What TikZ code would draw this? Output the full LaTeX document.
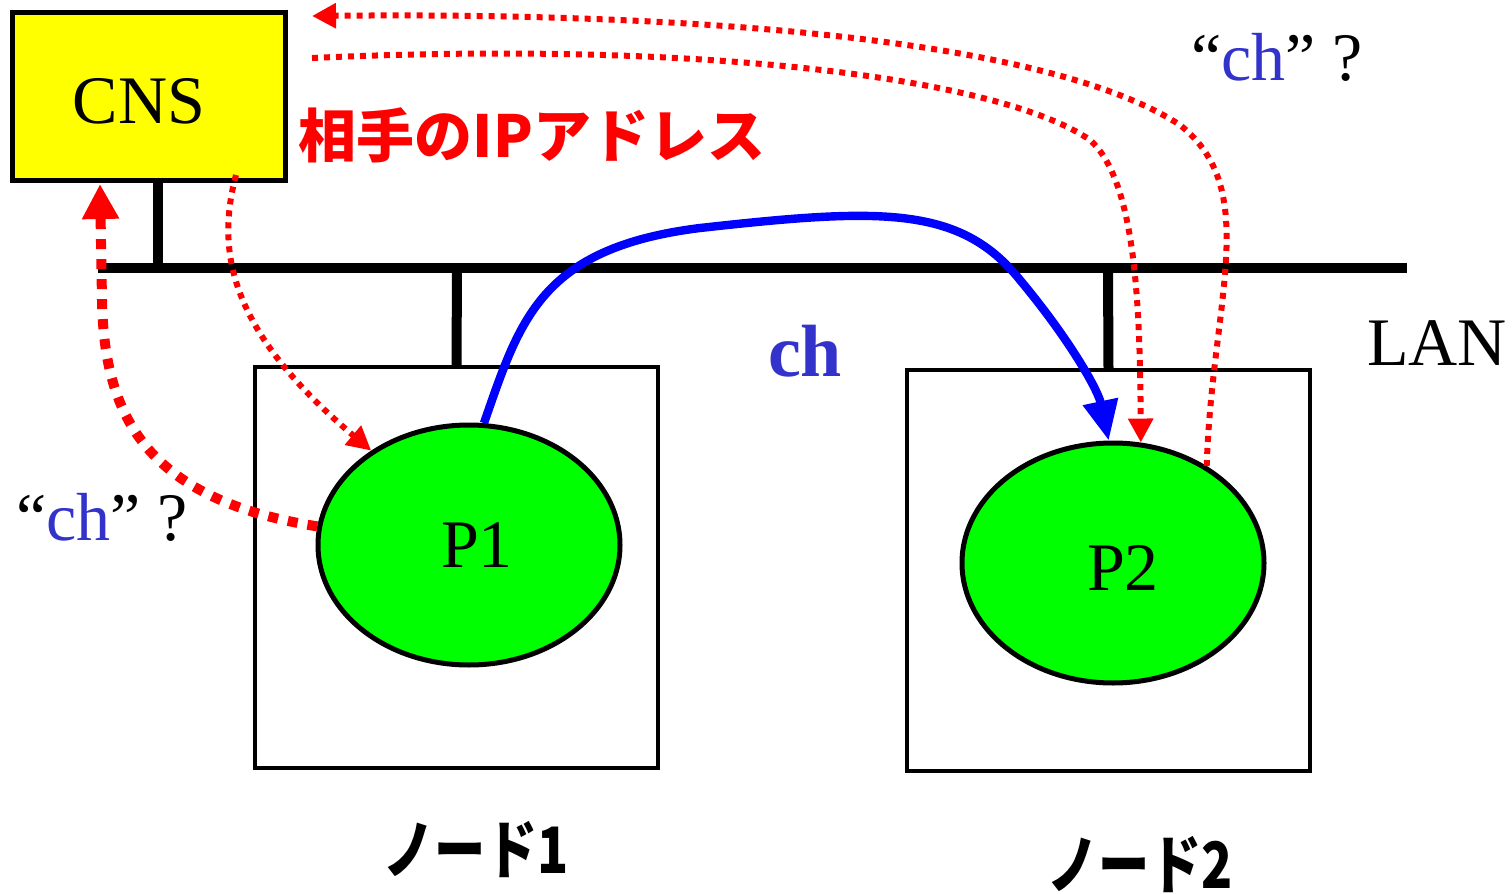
\documentclass[tikz,border=0pt]{standalone}
\usepackage{fontspec}
\setmainfont{Liberation Serif}
\newfontfamily\jp{Noto Sans CJK JP}
\usetikzlibrary{arrows.meta,shapes.geometric,calc}
\definecolor{cnsyellow}{RGB}{255,255,0}
\definecolor{pgreen}{RGB}{0,255,0}
\definecolor{chblue}{RGB}{51,51,204}
\definecolor{arrblue}{RGB}{0,0,255}
\definecolor{dred}{RGB}{255,0,0}
\tikzset{
  lbl/.style={inner sep=0pt, font=\fontsize{34}{40}\selectfont},
  jplbl/.style={inner sep=0pt, font=\jp\bfseries\fontsize{29}{36}\selectfont},
  cnsbox/.style={draw=black, line width=2.5pt, fill=cnsyellow, minimum width=136.5pt, minimum height=84pt, inner sep=0pt},
  nodebox/.style={draw=black, line width=2pt, minimum width=201.5pt, minimum height=200.5pt, inner sep=0pt},
  proc/.style={ellipse, draw=black, line width=2.5pt, fill=pgreen, minimum width=151pt, minimum height=120pt, inner sep=0pt},
  wire/.style={line width=5pt, black},
  bluearrow/.style={line width=4.2pt, arrblue, -{Triangle[length=20pt,width=17pt]}},
  thickdot/.style={line width=5pt, dred, dash pattern=on 5pt off 5pt, -{Triangle[length=17.5pt,width=17.5pt]}},
  thindot/.style={line width=3pt, dred, dash pattern=on 3pt off 3pt, -{Triangle[length=12pt,width=12pt]}},
}
\begin{document}
\begin{tikzpicture}[x=0.5pt,y=-0.5pt]
\useasboundingbox (0,0) rectangle (1512,894);
% LAN
\coordinate (lanL) at (98,268);
\coordinate (lanR) at (1407,268);
\coordinate (cnsStubTop) at (158,180);
\coordinate (cnsStubBot) at (158,268);
\coordinate (n1Stub) at (457,268);
\coordinate (n2Stub) at (1108,268);
% boxes
\node[nodebox] (node1) at (456.5,567.5) {};
\node[nodebox] (node2) at (1108.5,570.5) {};
\draw[wire] (lanL) -- (lanR);
\draw[wire] (cnsStubTop) -- (cnsStubBot);
\draw[wire] (n1Stub) -- (node1.north);
\draw[wire] (n2Stub) -- (node2.north);
\node[cnsbox] (cns) at (148.5,96) {};
\node[lbl, anchor=base] (cnsT) at (139,123) {CNS};
% processes
\node[proc] (P1) at (469,545) {};
\node[proc] (P2) at (1113,563) {};
\node[lbl, anchor=base] (p1T) at (477,567) {P1};
\node[lbl, anchor=base] (p2T) at (1123,590) {P2};
% labels
\node[lbl, anchor=base] (lanT) at (1437,365) {LAN};
\node[lbl, anchor=base, text=chblue, font=\fontsize{37}{42}\selectfont\bfseries] (chT) at (805,376) {ch};
\node[lbl, anchor=base] (qTR) at (1277,80) {“\textcolor{chblue}{ch}” ?};
\node[lbl, anchor=base] (qL) at (102,540) {“\textcolor{chblue}{ch}” ?};
\node[jplbl, text=dred] (ipT) at (532,135) {相手のIPアドレス};
\node[jplbl, font=\jp\bfseries\fontsize{32}{36}\selectfont] (n1T) at (476,850) {\scalebox{0.8}[1]{ノード1}};
\node[jplbl, font=\jp\bfseries\fontsize{32}{36}\selectfont] (n2T) at (1140,865) {\scalebox{0.8}[1]{ノード2}};
% blue ch transfer
\draw[bluearrow] (P1.83) .. controls (520,320) and (540,248) .. (700,228)
  .. controls (880,208) and (960,205) .. (1020,280)
  .. controls (1070,340) and (1098,390) .. (P2.92);
% red arrows
\coordinate (cnsIn) at (100,184);
\coordinate (cnsOut) at (236,175);
\coordinate (cnsR1) at (312,58);
\coordinate (cnsR2) at (312,16);
\draw[thickdot] (P1.173) .. controls (150,500) and (104,420) .. (102,300) -- (cnsIn);
\draw[thindot] (cnsOut) .. controls (216,250) and (228,330) .. (P1.136);
\draw[thindot] (cnsR1) .. controls (700,40) and (1000,78) .. (1090,140)
  .. controls (1135,180) and (1140,300) .. (P2.77);
\draw[thindot] (P2.46) .. controls (1212,300) and (1262,190) .. (1180,125)
  .. controls (1050,40) and (700,12) .. (cnsR2);
\end{tikzpicture}
\end{document}
